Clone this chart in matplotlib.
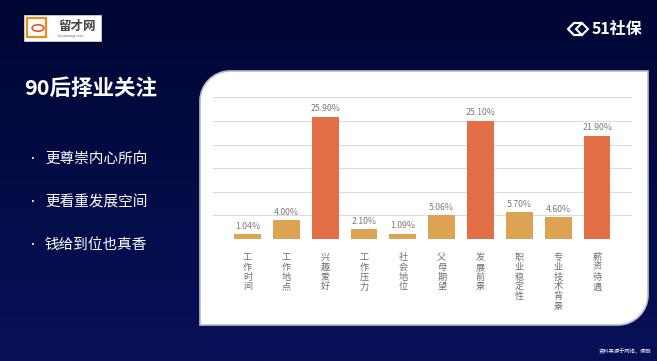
import matplotlib
matplotlib.use("Agg")
import matplotlib.pyplot as plt
import numpy as np
from matplotlib.path import Path
from matplotlib.patches import PathPatch, Rectangle, Circle, Polygon

plt.rcParams['font.family'] = ['Noto Sans CJK SC', 'DejaVu Sans']

categories = ["工作时间", "工作地点", "兴趣爱好", "工作压力", "社会地位",
              "父母期望", "发展前景", "职业稳定性", "专业技术背景", "薪资待遇"]
values = [1.04, 4.00, 25.90, 2.10, 1.09, 5.06, 25.10, 5.70, 4.60, 21.90]
value_labels = ["1.04%", "4.00%", "25.90%", "2.10%", "1.09%",
                "5.06%", "25.10%", "5.70%", "4.60%", "21.90%"]
highlight = [False, False, True, False, False, False, True, False, False, True]
bullets = ["更尊崇内心所向", "更看重发展空间", "钱给到位也真香"]
title = "90后择业关注"

W, H = 657, 361
fig = plt.figure(figsize=(W / 100, H / 100), dpi=100)

def fx(x):
    return x / W

def fy(y):
    return 1 - y / H

# background gradient
bg = fig.add_axes([0, 0, 1, 1])
bg.set_axis_off()
top = np.array([0x00, 0x07, 0x34]) / 255
bot = np.array([0x08, 0x10, 0x58]) / 255
t = np.linspace(0, 1, 256)[:, None]
grad = top[None, :] * (1 - t) + bot[None, :] * t
grad = np.repeat(grad[:, None, :], 2, axis=1)
bg.imshow(grad, aspect='auto', extent=[0, 1, 0, 1], origin='upper')
bg.set_xlim(0, 1)
bg.set_ylim(0, 1)

# white panel with rounded top-left and bottom-right corners
x0, x1, y0, y1 = 200, 648, 71, 325
r = 30
k = 0.55
pts = [
    (x0, y1), (x0, y0 + r),
    (x0, y0 + r - r * k), (x0 + r - r * k, y0), (x0 + r, y0),
    (x1, y0), (x1, y1 - r),
    (x1, y1 - r + r * k), (x1 - r + r * k, y1), (x1 - r, y1),
    (x0, y1),
]
codes = [Path.MOVETO, Path.LINETO, Path.CURVE4, Path.CURVE4, Path.CURVE4,
         Path.LINETO, Path.LINETO, Path.CURVE4, Path.CURVE4, Path.CURVE4,
         Path.CLOSEPOLY]
path = Path([(fx(a), fy(b)) for a, b in pts], codes)
bg.add_patch(PathPatch(path, facecolor='white', edgecolor='#b8bccc', lw=1.2,
                       transform=bg.transAxes, zorder=2))

# left logo
bg.add_patch(Rectangle((fx(24), fy(41)), fx(101) - fx(24), fy(15) - fy(41),
                       facecolor='white', edgecolor='#cfd3e0', lw=0.6,
                       transform=bg.transAxes, zorder=3))
bg.add_patch(Rectangle((fx(27), fy(37)), fx(46) - fx(27), fy(18) - fy(37),
                       facecolor='none', edgecolor='#f28a1e', lw=1.6,
                       transform=bg.transAxes, zorder=4))
bg.add_patch(Circle((fx(38), fy(28)), 0.009, facecolor='none',
                    edgecolor='#e9532b', lw=1.2, transform=bg.transAxes, zorder=5))
bg.text(fx(58), fy(26), "留才网", fontsize=9, fontweight='bold', color='#444444',
        ha='left', va='center', transform=bg.transAxes, zorder=5)
bg.text(fx(58), fy(35.5), "liucaiwang.com", fontsize=2.6, color='#666666',
        ha='left', va='center', transform=bg.transAxes, zorder=5)

# right logo
icon = [(fx(581), fy(35)), (fx(574), fy(35)), (fx(568), fy(29)),
        (fx(574), fy(23)), (fx(581), fy(23))]
bg.plot([p[0] for p in icon], [p[1] for p in icon], color='white', lw=1.6,
        transform=bg.transAxes, zorder=5)
bg.add_patch(Polygon([(fx(576), fy(29)), (fx(582), fy(23)), (fx(588), fy(29)),
                      (fx(582), fy(35))], closed=True, facecolor='none',
                     edgecolor='white', lw=1.5, transform=bg.transAxes, zorder=5))
bg.text(fx(592), fy(29), "51社保", fontsize=11.5, fontweight='bold', color='white',
        ha='left', va='center', transform=bg.transAxes, zorder=5)

# title and bullets
bg.text(fx(24), fy(88), title, fontsize=15.5, fontweight='bold', color='white',
        ha='left', va='center', transform=bg.transAxes, zorder=5)
for i, b in enumerate(bullets):
    yy = [159, 202, 245][i]
    bg.text(fx(27), fy(yy), "•", fontsize=7, color='white', ha='left',
            va='center', transform=bg.transAxes, zorder=5)
    bg.text(fx(45), fy(yy), b, fontsize=10.5, color='white', ha='left',
            va='center', transform=bg.transAxes, zorder=5)

bg.text(fx(651), fy(351), "资料来源于网络，侵删", fontsize=3.8, color='white',
        ha='right', va='center', transform=bg.transAxes, zorder=5)

# chart
ax_l, ax_r, ax_b = 213, 632, 239
ymax = 30
px_per_unit = 4.72
ax_t = ax_b - ymax * px_per_unit
ax = fig.add_axes([fx(ax_l), fy(ax_b), fx(ax_r) - fx(ax_l), fy(ax_t) - fy(ax_b)])
ax.set_zorder(3)
ax.patch.set_alpha(0)
xs = np.arange(len(categories))
colors = ['#e26f45' if h else '#dca352' for h in highlight]
ax.bar(xs, values, width=0.69, color=colors, zorder=3)
ax.set_ylim(0, ymax)
ax.set_xlim(-0.89, 9.9)
ax.set_yticks(np.arange(0, 31, 5))
ax.yaxis.grid(True, color='#dcdcdc', lw=0.8)
ax.set_axisbelow(True)
for s in ax.spines.values():
    s.set_visible(False)
ax.tick_params(left=False, bottom=False, labelleft=False, labelbottom=False)
for x, v, lab in zip(xs, values, value_labels):
    ax.annotate(lab, (x, v), xytext=(0, 2.5), textcoords='offset points',
                ha='center', va='bottom', fontsize=6.3, color='#7a7a7a')
for x, c in zip(xs, categories):
    for j, ch in enumerate(c):
        ax.annotate(ch, (x, 0), xytext=(0, -13.5 - j * 7.0),
                    textcoords='offset points', ha='center', va='center',
                    fontsize=6.6, color='#6e6e6e')

fig.savefig("out.png", dpi=100)
